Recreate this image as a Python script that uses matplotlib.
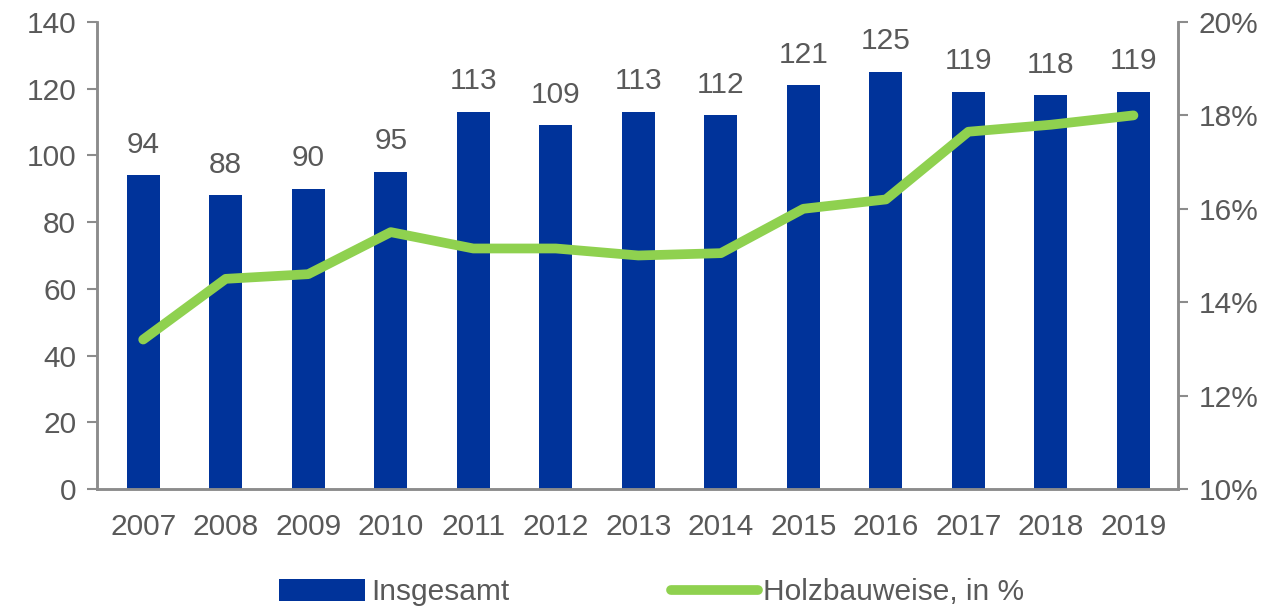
import matplotlib.pyplot as plt
from matplotlib.ticker import FuncFormatter
from matplotlib.lines import Line2D
from matplotlib.patches import Patch

plt.rcParams['font.family'] = ['Liberation Sans', 'DejaVu Sans']

BLUE = "#00339a"
GREEN = "#8fd14f"
GREY = "#595959"
AXC = "#8c8c8c"
FS = 21.5

years = ["2007", "2008", "2009", "2010", "2011", "2012", "2013",
         "2014", "2015", "2016", "2017", "2018", "2019"]
total = [94, 88, 90, 95, 113, 109, 113, 112, 121, 125, 119, 118, 119]
wood_pct = [13.2, 14.5, 14.6, 15.5, 15.15, 15.15, 15.0, 15.05, 16.0, 16.2, 17.65, 17.8, 18.0]

fig = plt.figure(figsize=(12.88, 6.07), dpi=100)
ax = fig.add_axes([0.0753, 0.1944, 0.8393, 0.7694])
ax2 = ax.twinx()

x = range(len(years))
ax.bar(x, total, width=0.4, color=BLUE, zorder=2)
for xi, v in zip(x, total):
    ax.annotate(str(v), (xi, v), xytext=(0, 12), textcoords="offset points",
                ha="center", va="bottom", fontsize=FS, color=GREY)

ax2.plot(x, wood_pct, color=GREEN, lw=7, solid_capstyle="round",
         solid_joinstyle="round", zorder=3)

ax.set_xlim(-0.56, 12.54)
ax.set_ylim(0, 140)
ax.set_yticks(range(0, 141, 20))
ax2.set_ylim(10, 20)
ax2.set_yticks(range(10, 21, 2))
ax2.yaxis.set_major_formatter(FuncFormatter(lambda v, p: f"{v:.0f}%"))
ax.set_xticks(list(x))
ax.set_xticklabels(years)

for a in (ax, ax2):
    a.spines["top"].set_visible(False)
    for s in ("left", "right", "bottom"):
        a.spines[s].set_color(AXC)
        a.spines[s].set_linewidth(1.8)
    a.tick_params(axis="both", labelsize=FS, labelcolor=GREY, color=AXC,
                  length=7, width=1.5)
ax.tick_params(axis="x", length=0, pad=17)
ax.tick_params(axis="y", pad=8)
ax2.tick_params(axis="y", pad=8)

handles = [Patch(facecolor=BLUE, edgecolor="none"),
           Line2D([0], [0], color=GREEN, lw=7, solid_capstyle="round")]
fig.legend(handles, ["Insgesamt", "Holzbauweise, in %"], loc="center",
           bbox_to_anchor=(0.506, 0.024), ncol=2, frameon=False,
           fontsize=FS, labelcolor=GREY, handlelength=2.9, handleheight=0.75,
           handletextpad=0.2, columnspacing=5.4)

fig.savefig("out.png", dpi=100)
